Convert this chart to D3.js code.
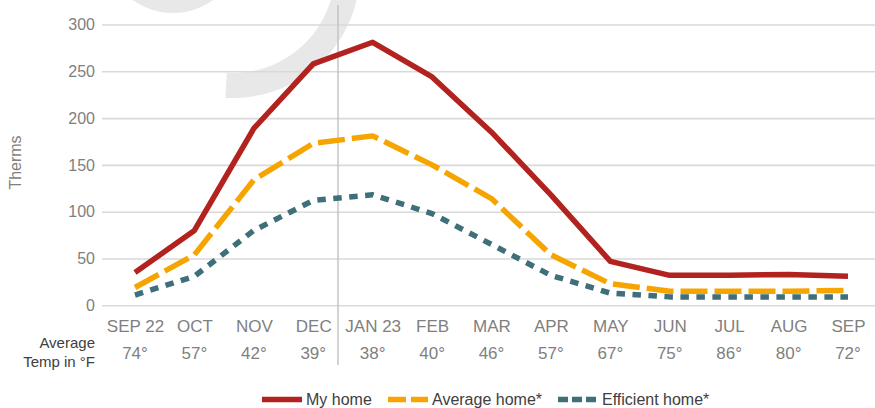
<!DOCTYPE html>
<html>
<head>
<meta charset="utf-8">
<script src="https://cdn.jsdelivr.net/npm/d3@7"></script>
<style>
  html, body { margin: 0; padding: 0; background: #fff; }
  svg { display: block; font-family: "Liberation Sans", Arial, sans-serif; }
</style>
</head>
<body>
<div id="chart"></div>
<script>
// data
const months = ["SEP 22", "OCT", "NOV", "DEC", "JAN 23", "FEB", "MAR", "APR", "MAY", "JUN", "JUL", "AUG", "SEP"];
const temps = ["74°", "57°", "42°", "39°", "38°", "40°", "46°", "57°", "67°", "75°", "86°", "80°", "72°"];
const my_home = [35, 80, 189, 258, 281, 244, 185, 118, 47, 32, 32, 33, 31];
const average_home = [19, 54, 134, 173, 181, 150, 114, 54, 23, 15, 15, 15, 16];
const efficient_home = [11, 31, 80, 112, 118, 98, 65, 32, 13, 9, 9, 9, 9];
const y_ticks = [0, 50, 100, 150, 200, 250, 300];

const width = 875, height = 408;

let svg = d3.select("#chart")
            .append("svg")
            .attr("width", width)
            .attr("height", height);

let x = d3.scalePoint().domain(months).range([135, 848]);
let y = d3.scaleLinear().domain([0, 300]).range([305.3, 24.5]);

// grey watermark shapes behind everything
svg.append("circle")
   .attr("cx", 173)
   .attr("cy", -56)
   .attr("r", 69)
   .attr("fill", "#e8e8e8");
svg.append("path")
   .attr("transform", "translate(233,-29)")
   .attr("d", d3.arc()
                .innerRadius(102)
                .outerRadius(127)
                .startAngle(Math.PI/2 - 0.4)
                .endAngle(Math.PI + 0.06)())
   .attr("fill", "#e8e8e8");

// y axis with gridlines
let y_axis = svg.append("g")
   .attr("transform", "translate(102,0)")
   .call(d3.axisLeft(y).tickValues(y_ticks).tickSize(-(width - 102)).tickPadding(7));
y_axis.select(".domain").remove();
y_axis.selectAll(".tick line")
      .attr("stroke", "#d9d9d9")
      .attr("stroke-width", 1.6);
y_axis.selectAll(".tick text")
      .attr("fill", "#7f7f7f")
      .style("font-size", "16px")
      .style("font-family", "Liberation Sans, Arial, sans-serif");

// divider between years
svg.append("line")
   .attr("x1", 338)
   .attr("x2", 338)
   .attr("y1", 5)
   .attr("y2", 365)
   .attr("stroke", "#c4c4c4")
   .attr("stroke-width", 1.5);

// month labels
let x_axis = svg.append("g")
   .attr("transform", "translate(0,305.3)")
   .call(d3.axisBottom(x).tickSize(0).tickPadding(0));
x_axis.select(".domain").remove();
x_axis.selectAll(".tick text")
      .attr("y", 26.4)
      .attr("dy", null)
      .attr("fill", "#7f7f7f")
      .style("font-size", "17px")
      .style("font-family", "Liberation Sans, Arial, sans-serif");

// temperature row
svg.append("g")
   .selectAll("text")
   .data(months)
   .join("text")
   .attr("x", d => x(d))
   .attr("y", 359.3)
   .attr("text-anchor", "middle")
   .attr("fill", "#7f7f7f")
   .style("font-size", "17px")
   .text((d, i) => temps[i]);

svg.append("text")
   .attr("x", 95)
   .attr("y", 348.3)
   .attr("text-anchor", "end")
   .attr("fill", "#404040")
   .style("font-size", "15px")
   .text("Average");
svg.append("text")
   .attr("x", 95)
   .attr("y", 367.3)
   .attr("text-anchor", "end")
   .attr("fill", "#404040")
   .style("font-size", "15px")
   .text("Temp in °F");

// y title
svg.append("text")
   .attr("transform", "translate(20.5,162.5) rotate(-90)")
   .attr("text-anchor", "middle")
   .attr("fill", "#7f7f7f")
   .style("font-size", "16px")
   .text("Therms");

// series
const series = [
    {name: "My home", values: my_home, color: "#b2221e", dash: null, legend_dash: null},
    {name: "Average home*", values: average_home, color: "#f6a500", dash: "27,7", legend_dash: "18,5"},
    {name: "Efficient home*", values: efficient_home, color: "#3f6f7a", dash: "8.5,7.5", legend_dash: "10,4"}
];

let line = d3.line()
             .x((d, i) => x(months[i]))
             .y(d => y(d));

for(let i=series.length-1;i>=0;i--) {
    let s = series[i];
    svg.append("path")
       .attr("d", line(s.values))
       .attr("fill", "none")
       .attr("stroke", s.color)
       .attr("stroke-width", 5.5)
       .attr("stroke-linejoin", "round")
       .attr("stroke-dasharray", s.dash);
}

// legend (sits at the very bottom edge, as in the original)
const legend_x = [262, 388, 558];
let legend = svg.append("g");
for(let i=0;i<series.length;i++) {
    let s = series[i];
    legend.append("line")
          .attr("x1", legend_x[i])
          .attr("x2", legend_x[i] + 40)
          .attr("y1", 399.5)
          .attr("y2", 399.5)
          .attr("stroke", s.color)
          .attr("stroke-width", 5.5)
          .attr("stroke-dasharray", s.legend_dash);
    legend.append("text")
          .attr("x", legend_x[i] + 44)
          .attr("y", 404.5)
          .attr("fill", "#404040")
          .style("font-size", "16px")
          .text(s.name);
}
</script>
</body>
</html>
